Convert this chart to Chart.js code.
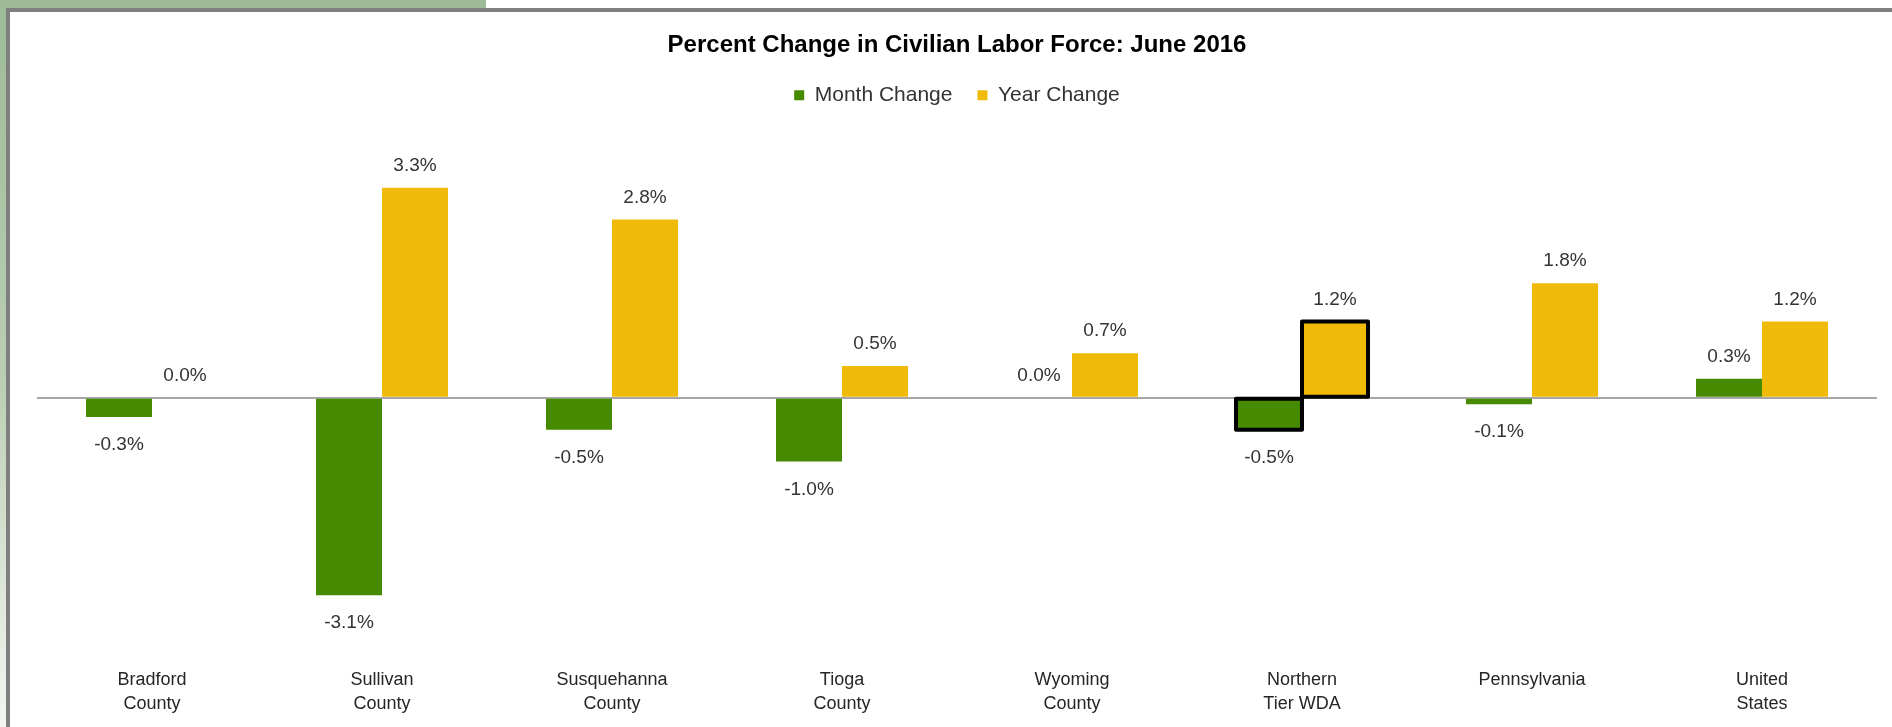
<!DOCTYPE html>
<html>
<head>
<meta charset="utf-8">
<script src="https://cdn.jsdelivr.net/npm/chart.js@4.4.1/dist/chart.umd.min.js"></script>
<style>
  html, body { margin: 0; padding: 0; background: #ffffff; }
  body { width: 1892px; height: 727px; position: relative; overflow: hidden; }
  #topStrip { position: absolute; left: 0; top: 0; width: 486px; height: 8px; background: #9dbb96; }
  #leftStrip { position: absolute; left: 0; top: 0; width: 6px; height: 727px;
    background: linear-gradient(to bottom, #9dbb96 0%, #b9cdb2 50%, #f3f6f1 100%); }
  #frame { position: absolute; left: 6px; top: 8px; width: 1886px; height: 719px;
    border-top: 4px solid #7f7f7f; border-left: 4px solid #7f7f7f; box-sizing: border-box; background: #fff; }
  #c { position: absolute; left: 0; top: 0; }
</style>
</head>
<body>
<div id="topStrip"></div>
<div id="leftStrip"></div>
<div id="frame"></div>
<canvas id="c" width="1892" height="727"></canvas>
<script>
const categories = [
  ['Bradford', 'County'],
  ['Sullivan', 'County'],
  ['Susquehanna', 'County'],
  ['Tioga', 'County'],
  ['Wyoming', 'County'],
  ['Northern', 'Tier WDA'],
  ['Pennsylvania'],
  ['United', 'States']
];
const monthChange = [-0.3, -3.1, -0.5, -1.0, 0.0, -0.5, -0.1, 0.3];
const yearChange = [0.0, 3.3, 2.8, 0.5, 0.7, 1.2, 1.8, 1.2];
const highlighted = [false, false, false, false, false, true, false, false];

const FONT = "'Liberation Sans', Arial, sans-serif";
const GREEN = '#468a00';
const GOLD = '#f0bb08';

const highlightOutline = {
  id: 'highlightOutline',
  afterDatasetsDraw(chart) {
    const ctx = chart.ctx;
    ctx.save();
    ctx.strokeStyle = '#000000';
    ctx.lineWidth = 4;
    ctx.lineJoin = 'round';
    chart.data.datasets.forEach((ds, di) => {
      const meta = chart.getDatasetMeta(di);
      meta.data.forEach((bar, i) => {
        if (!highlighted[i]) return;
        const p = bar.getProps(['x', 'y', 'base', 'width'], true);
        const top = Math.min(p.y, p.base);
        const h = Math.abs(p.base - p.y);
        ctx.strokeRect(p.x - p.width / 2, top, p.width, h);
      });
    });
    ctx.restore();
  }
};

const valueLabels = {
  id: 'valueLabels',
  afterDatasetsDraw(chart) {
    const ctx = chart.ctx;
    ctx.save();
    ctx.font = '19px ' + FONT;
    ctx.fillStyle = '#333333';
    ctx.textAlign = 'center';
    ctx.textBaseline = 'middle';
    chart.data.datasets.forEach((ds, di) => {
      const meta = chart.getDatasetMeta(di);
      meta.data.forEach((bar, i) => {
        const v = ds.data[i];
        const y = v >= 0 ? bar.y - 22 : bar.y + 28;
        ctx.fillText(v.toFixed(1) + '%', bar.x, y);
      });
    });
    ctx.restore();
  }
};

new Chart(document.getElementById('c'), {
  type: 'bar',
  data: {
    labels: categories,
    datasets: [
      {
        label: 'Month Change',
        data: monthChange,
        backgroundColor: GREEN,
        borderWidth: 0
      },
      {
        label: 'Year Change',
        data: yearChange,
        backgroundColor: GOLD,
        borderWidth: 0
      }
    ]
  },
  options: {
    responsive: false,
    devicePixelRatio: 1,
    animation: false,
    categoryPercentage: 0.574,
    barPercentage: 1.0,
    layout: { padding: { left: 37, right: 15, top: 0, bottom: 1 } },
    plugins: {
      title: {
        display: true,
        text: 'Percent Change in Civilian Labor Force: June 2016',
        color: '#000000',
        font: { family: FONT, size: 24, weight: 'bold' },
        padding: { top: 31, bottom: 0 }
      },
      legend: {
        display: true,
        labels: {
          color: '#333333',
          font: { family: FONT, size: 21 },
          boxWidth: 10,
          boxHeight: 10,
          padding: 25
        }
      },
      tooltip: { enabled: false }
    },
    scales: {
      x: {
        grid: { display: false, drawTicks: false },
        border: { display: false },
        ticks: {
          color: '#262626',
          font: { family: FONT, size: 18, lineHeight: 1.333 },
          padding: 9.6,
          maxRotation: 0,
          autoSkip: false
        }
      },
      y: {
        min: -4.1,
        max: 4.43,
        border: { display: false },
        grid: {
          drawTicks: false,
          lineWidth: 2,
          color: (c) => (c.tick && c.tick.value === 0) ? '#a6a6a6' : 'rgba(0,0,0,0)'
        },
        ticks: { display: false, stepSize: 1 }
      }
    }
  },
  plugins: [highlightOutline, valueLabels]
});
</script>
</body>
</html>
